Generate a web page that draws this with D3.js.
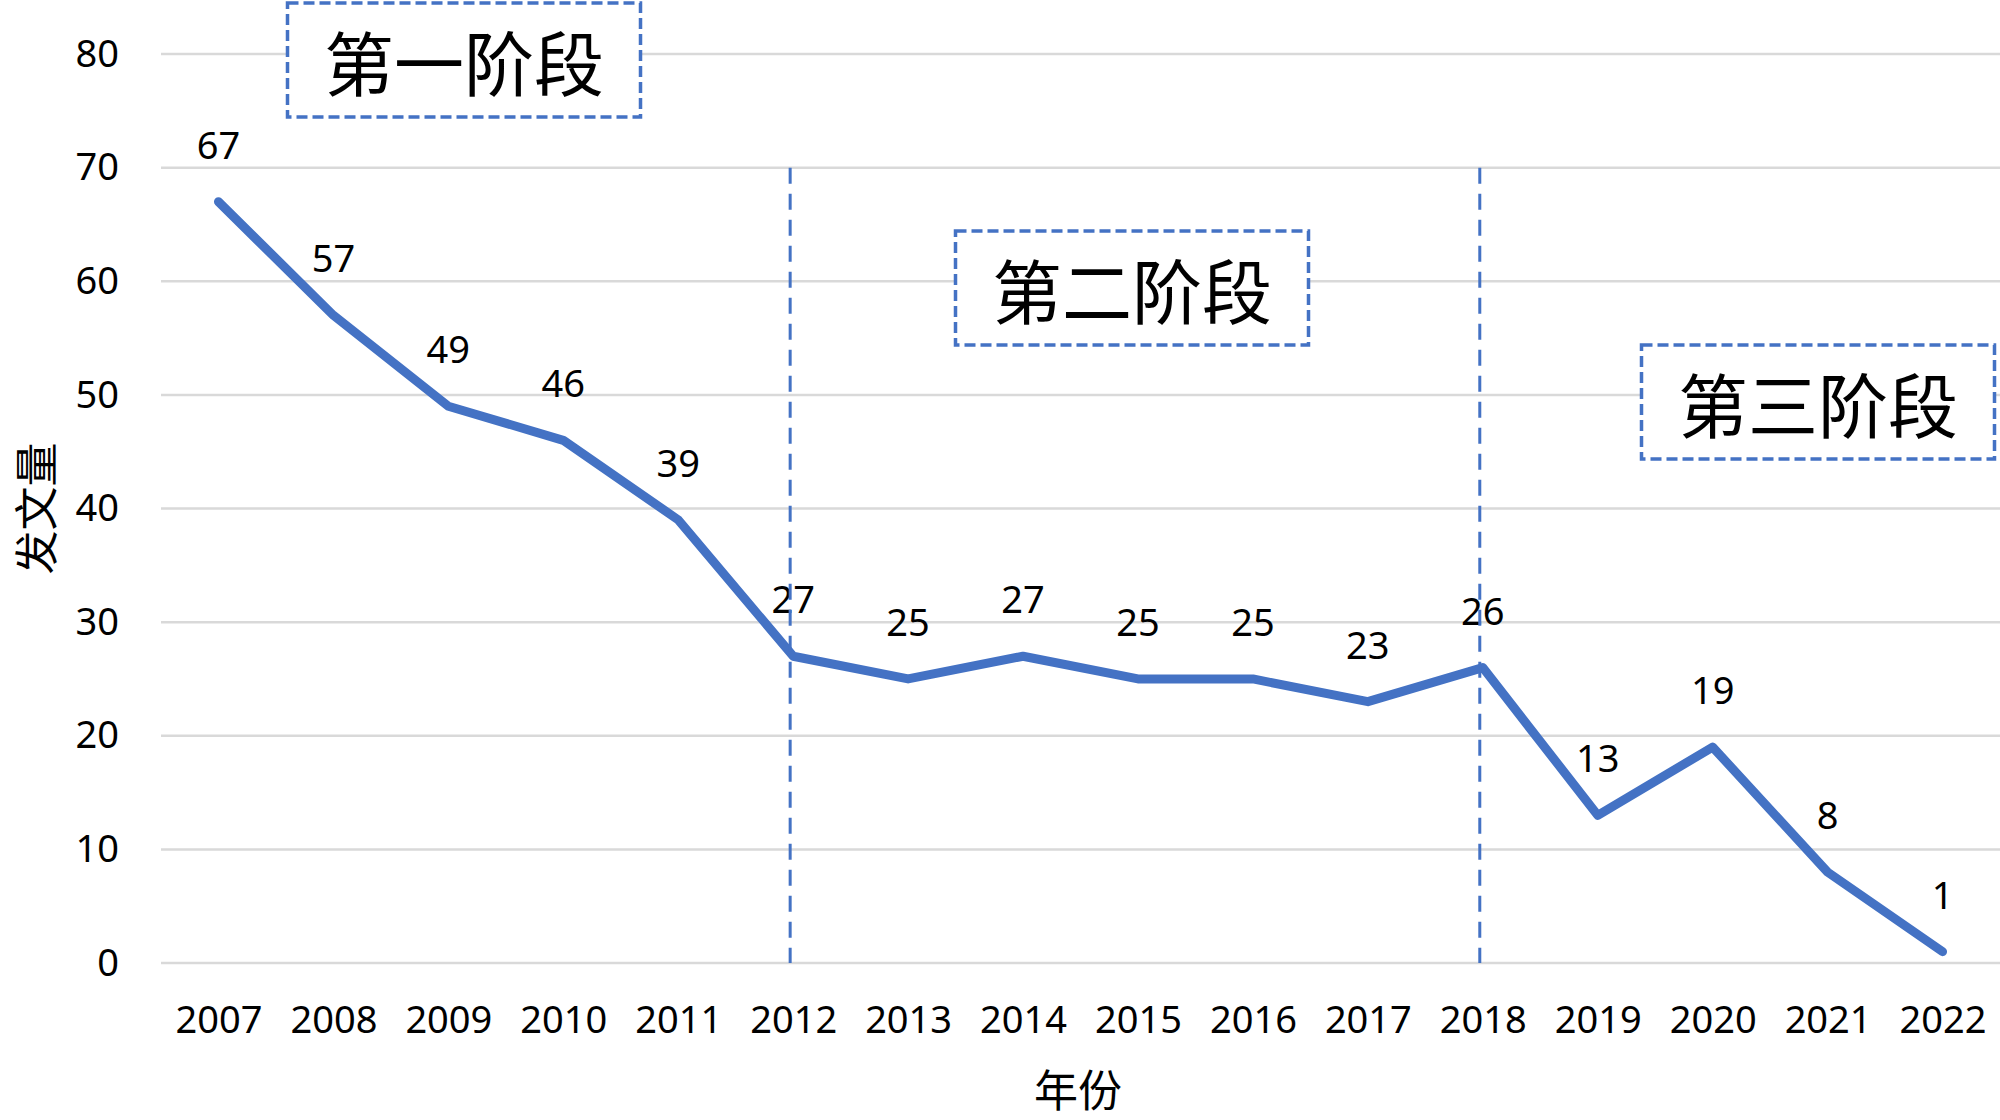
<!DOCTYPE html>
<html>
<head>
<meta charset="utf-8">
<script src="https://cdn.jsdelivr.net/npm/d3@7"></script>
<style>
  body { margin: 0; background: #fff; }
  svg { display: block; }
</style>
</head>
<body>
<svg id="chart" width="2000" height="1120"></svg>
<script>
var years = ["2007", "2008", "2009", "2010", "2011", "2012", "2013", "2014",
             "2015", "2016", "2017", "2018", "2019", "2020", "2021", "2022"];
var counts = [67, 57, 49, 46, 39, 27, 25, 27, 25, 25, 23, 26, 13, 19, 8, 1];
var yTicks = [0, 10, 20, 30, 40, 50, 60, 70, 80];
var dividers = ["2012", "2018"];
var stageLabels = ["第一阶段", "第二阶段", "第三阶段"];

// where the stage boxes sit on the page (layout, not data)
var stageBoxes = [
    { cx: 464, cy: 60 },
    { cx: 1132, cy: 288 },
    { cx: 1818, cy: 402 }
];
var boxW = 353, boxH = 114;

var svg = d3.select("#chart"),
    width = +svg.attr("width"),
    height = +svg.attr("height");

var blue = "#4472C4";
var numFont = "'Noto Sans', 'DejaVu Sans', sans-serif";
var cjkFont = "'Noto Sans CJK SC', sans-serif";

var x = d3.scalePoint()
    .domain(years)
    .range([161, 2000])
    .padding(0.5);

var y = d3.scaleLinear()
    .domain([0, 80])
    .range([963, 54]);

// gridlines
svg.append("g")
    .selectAll("line")
    .data(yTicks)
    .enter().append("line")
    .attr("x1", 161)
    .attr("x2", width)
    .attr("y1", function(d) { return y(d); })
    .attr("y2", function(d) { return y(d); })
    .attr("stroke", "#d9d9d9")
    .attr("stroke-width", 2.5);

// y axis labels
var yAxis = svg.append("g")
    .attr("transform", "translate(119,0)")
    .call(d3.axisLeft(y).tickValues(yTicks).tickSize(0).tickPadding(0));
yAxis.select(".domain").remove();
yAxis.selectAll("text")
    .attr("font-family", numFont)
    .attr("font-size", 38)
    .attr("fill", "#000");

// x axis labels
var xAxis = svg.append("g")
    .attr("transform", "translate(0,1006)")
    .call(d3.axisBottom(x).tickSize(0).tickPadding(0));
xAxis.select(".domain").remove();
xAxis.selectAll("text")
    .attr("font-family", numFont)
    .attr("font-size", 38)
    .attr("fill", "#000");

// stage boxes
var boxes = svg.append("g")
    .selectAll("g")
    .data(stageLabels)
    .enter().append("g")
    .attr("transform", function(d, i) {
        return "translate(" + stageBoxes[i].cx + "," + stageBoxes[i].cy + ")";
    });

boxes.append("rect")
    .attr("x", -boxW / 2)
    .attr("y", -boxH / 2)
    .attr("width", boxW)
    .attr("height", boxH)
    .attr("fill", "#fff")
    .attr("stroke", blue)
    .attr("stroke-width", 3.5)
    .attr("stroke-dasharray", "11,5");

boxes.append("text")
    .attr("y", 0)
    .attr("text-anchor", "middle")
    .attr("dominant-baseline", "central")
    .attr("font-family", cjkFont)
    .attr("font-size", 70)
    .attr("fill", "#000")
    .text(function(d) { return d; });

// series line
var line = d3.line()
    .x(function(d, i) { return x(years[i]); })
    .y(function(d) { return y(d); });

svg.append("path")
    .datum(counts)
    .attr("d", line)
    .attr("fill", "none")
    .attr("stroke", blue)
    .attr("stroke-width", 9)
    .attr("stroke-linejoin", "round")
    .attr("stroke-linecap", "round");

// data labels
svg.append("g")
    .selectAll("text")
    .data(counts)
    .enter().append("text")
    .attr("x", function(d, i) { return x(years[i]); })
    .attr("y", function(d) { return y(d) - 58; })
    .attr("text-anchor", "middle")
    .attr("dominant-baseline", "central")
    .attr("font-family", numFont)
    .attr("font-size", 38)
    .attr("fill", "#000")
    .text(function(d) { return d; });

// stage dividers
svg.append("g")
    .selectAll("line")
    .data(dividers)
    .enter().append("line")
    .attr("x1", function(d) { return x(d) - 3; })
    .attr("x2", function(d) { return x(d) - 3; })
    .attr("y1", y(70))
    .attr("y2", y(0))
    .attr("stroke", blue)
    .attr("stroke-width", 3)
    .attr("stroke-dasharray", "16,10");

// axis titles
svg.append("text")
    .attr("transform", "translate(34," + y(40) + ") rotate(-90)")
    .attr("text-anchor", "middle")
    .attr("dominant-baseline", "central")
    .attr("font-family", cjkFont)
    .attr("font-size", 44)
    .attr("fill", "#000")
    .text("发文量");

svg.append("text")
    .attr("x", 1078)
    .attr("y", 1088)
    .attr("text-anchor", "middle")
    .attr("dominant-baseline", "central")
    .attr("font-family", cjkFont)
    .attr("font-size", 44)
    .attr("fill", "#000")
    .text("年份");
</script>
</body>
</html>
